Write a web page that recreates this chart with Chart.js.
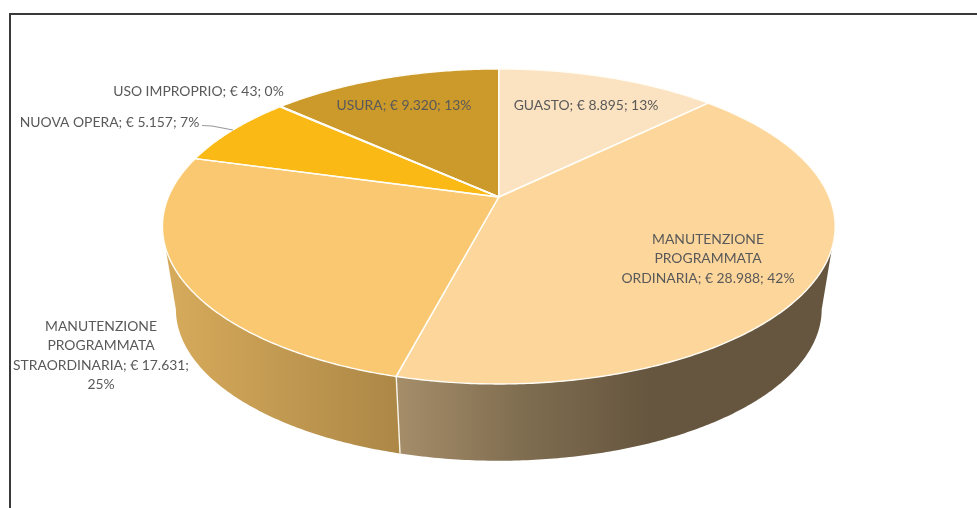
<!DOCTYPE html>
<html>
<head>
<meta charset="utf-8">
<title>Costi di manutenzione</title>
<script src="https://cdn.jsdelivr.net/npm/chart.js@4/dist/chart.umd.min.js"></script>
<style>
    html, body { margin: 0; padding: 0; background: #fff; overflow: hidden; }
    #wrap { position: relative; width: 977px; height: 508px; overflow: hidden; }
    #frame { position: absolute; left: 9px; top: 13px; right: 0; bottom: 0; border-left: 2px solid #3a3a3a; border-top: 2px solid #3a3a3a; box-sizing: border-box; }
    canvas { position: absolute; left: 0; top: 0; }
</style>
</head>
<body>
<div id="wrap">
    <div id="frame"></div>
    <canvas id="costChart" width="977" height="508"></canvas>
</div>
<script>
const categories = ['GUASTO', 'MANUTENZIONE PROGRAMMATA ORDINARIA', 'MANUTENZIONE PROGRAMMATA STRAORDINARIA', 'NUOVA OPERA', 'USO IMPROPRIO', 'USURA'];
const amounts = [8895, 28988, 17631, 5157, 43, 9320];
const sliceColors = ['#FBE2C0', '#FDD69B', '#F9C870', '#FAB915', '#D9A520', '#CB9A2A'];

// label text, one entry per line
const labelLines = [
    ['GUASTO; € 8.895; 13%'],
    ['MANUTENZIONE', 'PROGRAMMATA', 'ORDINARIA; € 28.988; 42%'],
    ['MANUTENZIONE', 'PROGRAMMATA', 'STRAORDINARIA; € 17.631;', '25%'],
    ['NUOVA OPERA; € 5.157; 7%'],
    ['USO IMPROPRIO; € 43; 0%'],
    ['USURA; € 9.320; 13%']
];
const labelAnchors = [[586, 105.5], [708, 239.5], [101, 326.5], [109.5, 122.5], [198.5, 91.5], [404, 105.5]];

// perspective of the top face and of the lower rim
const topFace = { cx: 498.8, cy: 197, a: 330.4, b: 152, p: 0.187 };
const lowerRim = { cx: 498.8, cy: 280.5, a: 317, b: 146, p: 0.19 };
const frontFrom = 18.4 * Math.PI / 180;
const frontTo = 161.6 * Math.PI / 180;
const lowerInset = 7.4 * Math.PI / 180;

function project(face, angle, r) {
    const u = r * Math.cos(angle);
    const v = r * Math.sin(angle);
    const d = 1 - face.p * v;
    return [face.cx + face.a * u / d, face.cy + face.b * v / d];
}

function traceRim(ctx, face, from, to) {
    const steps = Math.max(2, Math.ceil(Math.abs(to - from) / 0.01));
    for (let i = 0; i <= steps; i++) {
        const pt = project(face, from + (to - from) * i / steps, 1);
        ctx.lineTo(pt[0], pt[1]);
    }
}

function wallGradient(ctx, x0, x1, stops) {
    const g = ctx.createLinearGradient(x0, 0, x1, 0);
    stops.forEach(function (s) { g.addColorStop(s[0], s[1]); });
    return g;
}

const pie3d = {
    id: 'pie3d',
    beforeDatasetDraw: function (chart) {
        const ctx = chart.ctx;
        const arcs = chart.getDatasetMeta(0).data;
        const walls = {
            1: wallGradient(ctx, 398, 650, [[0, '#A58D69'], [0.5, '#7F6D50'], [1, '#66563F']]),
            2: wallGradient(ctx, 172, 398, [[0, '#D6AA5B'], [1, '#AC8746']])
        };

        ctx.save();
        // side wall below the slices that face the viewer
        arcs.forEach(function (arc, i) {
            if (!walls[i]) return;
            const from = Math.max(arc.startAngle, frontFrom);
            const to = Math.min(arc.endAngle, frontTo);
            const lowFrom = from === frontFrom ? from - lowerInset : from;
            const lowTo = to === frontTo ? to + lowerInset : to;
            ctx.beginPath();
            traceRim(ctx, topFace, from, to);
            traceRim(ctx, lowerRim, lowTo, lowFrom);
            ctx.closePath();
            ctx.fillStyle = walls[i];
            ctx.fill();
        });

        // seam between the two wall pieces
        const seam = arcs[1].endAngle;
        const s0 = project(topFace, seam, 1);
        const s1 = project(lowerRim, seam, 1);
        ctx.beginPath();
        ctx.moveTo(s0[0], s0[1]);
        ctx.lineTo(s1[0], s1[1]);
        ctx.strokeStyle = '#FBF6EA';
        ctx.lineWidth = 1.4;
        ctx.stroke();

        // top face
        arcs.forEach(function (arc, i) {
            ctx.beginPath();
            ctx.moveTo(topFace.cx, topFace.cy);
            traceRim(ctx, topFace, arc.startAngle, arc.endAngle);
            ctx.closePath();
            ctx.fillStyle = sliceColors[i];
            ctx.fill();
        });
        arcs.forEach(function (arc) {
            ctx.beginPath();
            ctx.moveTo(topFace.cx, topFace.cy);
            traceRim(ctx, topFace, arc.startAngle, arc.endAngle);
            ctx.closePath();
            ctx.strokeStyle = '#FFFDF6';
            ctx.lineWidth = 1.4;
            ctx.lineJoin = 'round';
            ctx.stroke();
        });
        ctx.restore();
        return false;
    },
    afterDatasetsDraw: function (chart) {
        const ctx = chart.ctx;
        ctx.save();

        // leader line for NUOVA OPERA
        ctx.beginPath();
        ctx.moveTo(202, 125.5);
        ctx.lineTo(212, 126);
        ctx.lineTo(233, 130);
        ctx.strokeStyle = '#9A9A9A';
        ctx.lineWidth = 1.2;
        ctx.stroke();

        ctx.font = '13.9px Lato';
        ctx.fillStyle = '#595959';
        ctx.textAlign = 'center';
        ctx.textBaseline = 'middle';
        labelLines.forEach(function (lines, i) {
            lines.forEach(function (line, n) {
                ctx.fillText(line, labelAnchors[i][0], labelAnchors[i][1] + n * 19.3);
            });
        });
        ctx.restore();
    }
};

new Chart(document.getElementById('costChart'), {
    type: 'pie',
    data: {
        labels: categories,
        datasets: [{
            data: amounts,
            backgroundColor: sliceColors,
            borderColor: '#ffffff'
        }]
    },
    options: {
        responsive: false,
        animation: false,
        plugins: {
            legend: { display: false },
            tooltip: { enabled: false }
        }
    },
    plugins: [pie3d]
});
</script>
</body>
</html>
